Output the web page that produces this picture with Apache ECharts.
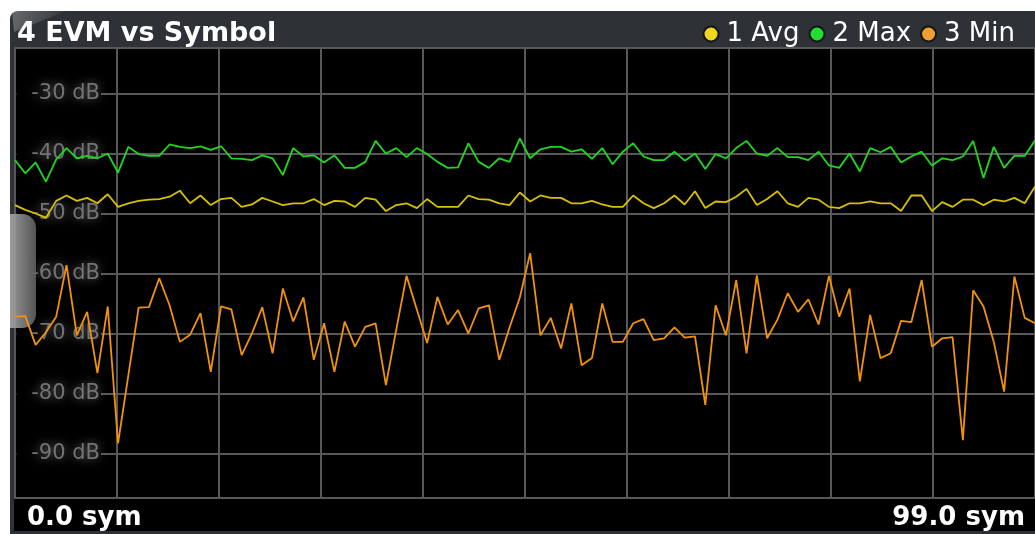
<!DOCTYPE html>
<html>
<head>
<meta charset="utf-8">
<script src="https://cdn.jsdelivr.net/npm/echarts@6/dist/echarts.min.js"></script>
<style>
  html, body { margin: 0; padding: 0; background: #ffffff; }
  #chart { width: 1035px; height: 534px; }
</style>
</head>
<body>
<div id="chart"></div>
<script>
// EVM per symbol, three trace detectors (dB)
const chartTitle = '4 EVM vs Symbol';
const traceNames = ['1 Avg', '2 Max', '3 Min'];
const symbolFirst = 0;
const symbolLast = 99;
const levelTicks = [-30, -40, -50, -60, -70, -80, -90];
const xEdgeLabels = ['0.0 sym', '99.0 sym'];

const avgTrace = [
  -48.6, -49.4, -50.0, -50.7, -47.9, -47.0, -47.9, -47.4, -48.3, -46.8,
  -48.9, -48.3, -47.9, -47.7, -47.6, -47.2, -46.2, -48.3, -47.0, -48.6,
  -47.6, -47.4, -48.9, -48.5, -47.4, -48.0, -48.6, -48.3, -48.3, -47.6,
  -48.6, -47.9, -48.0, -48.9, -47.4, -47.7, -49.6, -48.6, -48.3, -49.1,
  -47.6, -48.9, -48.9, -48.9, -47.0, -47.6, -47.7, -48.3, -48.6, -46.5,
  -48.0, -47.0, -47.4, -47.4, -48.3, -48.3, -47.9, -48.5, -48.9, -48.9,
  -47.0, -48.3, -49.1, -48.3, -47.0, -48.5, -46.3, -49.1, -48.0, -48.1,
  -47.2, -45.9, -48.6, -47.6, -46.3, -48.3, -48.9, -47.4, -47.7, -48.9,
  -49.1, -48.3, -48.3, -48.0, -48.3, -48.3, -49.6, -47.0, -47.0, -49.6,
  -48.1, -48.9, -47.7, -47.7, -48.6, -47.7, -48.0, -47.4, -48.3, -45.5
];

const maxTrace = [
  -41.1, -43.3, -41.5, -44.7, -41.0, -39.1, -40.8, -40.4, -40.8, -40.0,
  -43.2, -38.9, -40.1, -40.4, -40.4, -38.5, -38.9, -39.1, -38.8, -39.4,
  -38.8, -40.8, -40.9, -41.1, -40.3, -40.8, -43.6, -39.1, -40.5, -40.3,
  -41.5, -40.3, -42.4, -42.4, -41.4, -37.9, -40.0, -39.1, -40.6, -39.1,
  -40.1, -41.4, -42.4, -42.3, -38.3, -41.4, -42.4, -40.8, -41.4, -37.5,
  -40.8, -39.3, -38.9, -38.9, -39.7, -39.3, -40.9, -39.1, -41.8, -39.7,
  -38.3, -40.5, -41.1, -41.1, -39.7, -41.2, -40.0, -42.6, -40.1, -40.8,
  -39.1, -37.9, -40.0, -40.4, -39.1, -40.6, -40.6, -41.1, -39.7, -42.0,
  -42.4, -40.0, -43.0, -39.1, -39.8, -38.9, -41.5, -40.5, -39.7, -42.0,
  -40.8, -41.1, -40.5, -37.9, -44.1, -38.9, -42.4, -40.4, -40.4, -37.8
];

const minTrace = [
  -67.2, -67.1, -71.9, -69.8, -67.2, -58.6, -70.3, -66.4, -76.6, -65.5,
  -88.3, -77.0, -65.7, -65.6, -60.8, -65.3, -71.4, -70.2, -66.6, -76.4,
  -65.5, -66.0, -73.6, -70.0, -65.6, -73.3, -62.5, -68.0, -64.0, -74.4,
  -68.3, -76.4, -68.0, -72.2, -68.9, -68.3, -78.6, -69.4, -60.4, -66.0,
  -71.6, -63.9, -68.5, -66.1, -70.0, -65.8, -65.3, -74.4, -69.0, -64.0,
  -56.6, -70.3, -67.4, -72.5, -65.0, -75.3, -74.1, -65.0, -71.4, -71.4,
  -68.3, -67.6, -71.1, -70.8, -69.0, -70.7, -70.5, -81.9, -65.3, -70.3,
  -61.1, -73.3, -60.3, -70.8, -67.7, -63.3, -66.4, -64.3, -68.5, -60.4,
  -67.2, -62.5, -78.0, -66.9, -74.1, -73.3, -67.9, -68.1, -61.1, -72.2,
  -70.8, -70.6, -87.8, -62.8, -65.5, -71.4, -79.7, -60.5, -67.4, -68.3
];

const traceColors = ['#d6c000', '#1ed81e', '#f29209'];
const legendDotColors = ['#f0d820', '#22dd33', '#f0a030'];

const toPoints = (trace) => trace.map((v, i) => [symbolFirst + i, v]);

const FONT = 'DejaVu Sans';
const GRID_LINE = '#585858';

const chart = echarts.init(document.getElementById('chart'), null, { renderer: 'canvas' });

chart.setOption({
  animation: false,
  backgroundColor: '#ffffff',
  title: {
    text: chartTitle,
    left: 17,
    top: 20,
    padding: 0,
    textStyle: { color: '#ffffff', fontSize: 27, fontWeight: 'bold', fontFamily: FONT }
  },
  legend: {
    right: 20,
    top: 21,
    padding: 0,
    icon: 'circle',
    itemWidth: 15,
    itemHeight: 15,
    itemGap: 9,
    selectedMode: false,
    textStyle: { color: '#ffffff', fontSize: 26, fontFamily: FONT, padding: [0, 0, 0, 3] },
    data: traceNames.map((name, i) => ({
      name,
      itemStyle: { color: legendDotColors[i], borderColor: '#151515', borderWidth: 2 }
    }))
  },
  graphic: [
    // instrument window frame and title bar
    { type: 'rect', z: -5, shape: { x: 10, y: 11, width: 1040, height: 540, r: 8 },
      style: { fill: '#2e3135' } },
    { type: 'polygon', z: -4, shape: { points: [[12, 11], [66, 11], [14, 32]] },
      style: { fill: { type: 'linear', x: 0, y: 0, x2: 1, y2: 1,
        colorStops: [{ offset: 0, color: 'rgba(255,255,255,0.28)' }, { offset: 1, color: 'rgba(255,255,255,0)' }] } } },
    { type: 'rect', z: -3, shape: { x: 14, y: 47, width: 1030, height: 484 },
      style: { fill: '#000000' } },
    // side handle on the left edge
    { type: 'rect', z: 1, shape: { x: 10, y: 214, width: 26, height: 114, r: [0, 14, 14, 0] },
      style: { fill: { type: 'linear', x: 0, y: 0, x2: 1, y2: 0,
        colorStops: [{ offset: 0, color: '#a8a8a8' }, { offset: 1, color: '#5e5e5e' }] }, opacity: 0.9 } },
    { type: 'text', left: 27, top: 505,
      style: { text: xEdgeLabels[0], fill: '#ffffff', font: 'bold 26px "' + FONT + '"' } },
    { type: 'text', right: 10, top: 505,
      style: { text: xEdgeLabels[1], fill: '#ffffff', font: 'bold 26px "' + FONT + '"' } }
  ],
  grid: {
    left: 15, top: 48, width: 1021, height: 450,
    show: true, backgroundColor: 'transparent', borderColor: GRID_LINE, borderWidth: 2
  },
  xAxis: {
    type: 'value',
    min: symbolFirst,
    max: symbolLast,
    interval: (symbolLast - symbolFirst) / 10,
    axisLine: { show: false },
    axisTick: { show: false },
    axisLabel: { show: false },
    splitLine: { show: true, lineStyle: { color: GRID_LINE, width: 2 } }
  },
  yAxis: {
    type: 'value',
    min: -97.42,
    max: -22.42,
    axisLine: { show: false },
    axisTick: { show: false, customValues: levelTicks },
    splitLine: { show: true, lineStyle: { color: GRID_LINE, width: 2 } },
    axisLabel: {
      customValues: levelTicks,
      inside: true,
      align: 'right',
      margin: 86,
      formatter: (v) => v + ' dB',
      color: '#737373',
      fontSize: 21,
      fontFamily: FONT,
      backgroundColor: '#000000',
      padding: [3, 1, 3, 15],
      textShadowColor: 'rgba(175,175,175,0.6)',
      textShadowBlur: 9
    }
  },
  series: [avgTrace, maxTrace, minTrace].map((trace, i) => ({
    name: traceNames[i],
    type: 'line',
    data: toPoints(trace),
    symbol: 'none',
    z: 3 + (2 - i),
    color: traceColors[i],
    lineStyle: { color: traceColors[i], width: 1.8 }
  }))
});
</script>
</body>
</html>
